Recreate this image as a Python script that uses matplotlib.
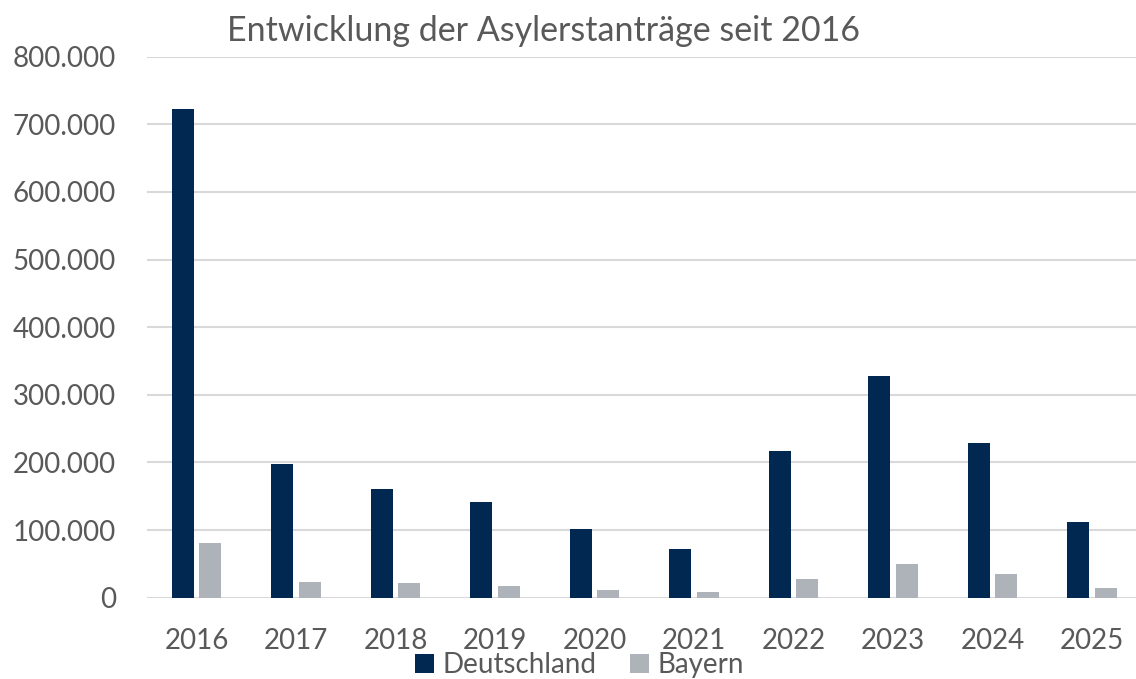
import matplotlib
matplotlib.use("Agg")
import matplotlib.pyplot as plt
import numpy as np
from matplotlib.ticker import FuncFormatter

years = ["2016", "2017", "2018", "2019", "2020", "2021", "2022", "2023", "2024", "2025"]
deutschland = [722000, 198000, 161000, 142000, 102000, 72000, 217000, 328000, 229000, 112000]
bayern = [81000, 23000, 21000, 17000, 11000, 9000, 28000, 50000, 35000, 14000]

NAVY = "#002850"
GREY = "#ADB3B8"
TEXT = "#595959"
GRID = "#D9D9D9"

plt.rcParams["font.family"] = ["Lato", "DejaVu Sans"]

W, H = 1136, 679
fig = plt.figure(figsize=(W / 100, H / 100), dpi=100)
left = 146.75 / W
bottom = (H - 597.7) / H
top = (H - 56.7) / H
ax = fig.add_axes([left, bottom, 1 - left, top - bottom])

x = np.arange(len(years))
bw = 0.22
ax.bar(x - 0.14, deutschland, width=bw, color=NAVY, label="Deutschland", zorder=3)
ax.bar(x + 0.14, bayern, width=bw, color=GREY, label="Bayern", zorder=3)

ax.set_xlim(-0.5, -0.5 + (W - 146.75) / 99.5)
ax.set_ylim(0, 800000)
ax.set_yticks(np.arange(0, 800001, 100000))
ax.yaxis.set_major_formatter(FuncFormatter(lambda v, p: f"{int(v):,}".replace(",", ".")))
ax.set_xticks(x)
ax.set_xticklabels(years)

ax.grid(axis="y", color=GRID, linewidth=1.5, zorder=0)
for s in ax.spines.values():
    s.set_visible(False)
ax.tick_params(axis="both", length=0, labelsize=20, colors=TEXT)
ax.tick_params(axis="y", pad=22)
ax.tick_params(axis="x", pad=22)

fig.text(0.478, 0.955, "Entwicklung der Asylerstanträge seit 2016",
         ha="center", va="center", fontsize=24.5, color=TEXT)

fig.legend(loc="center", bbox_to_anchor=(0.51, 0.02), ncol=2, frameon=False,
           fontsize=20, labelcolor=TEXT, handlelength=0.7, handleheight=0.7,
           handletextpad=0.3, columnspacing=1.2, borderaxespad=0)

fig.savefig("out.png", dpi=100)
